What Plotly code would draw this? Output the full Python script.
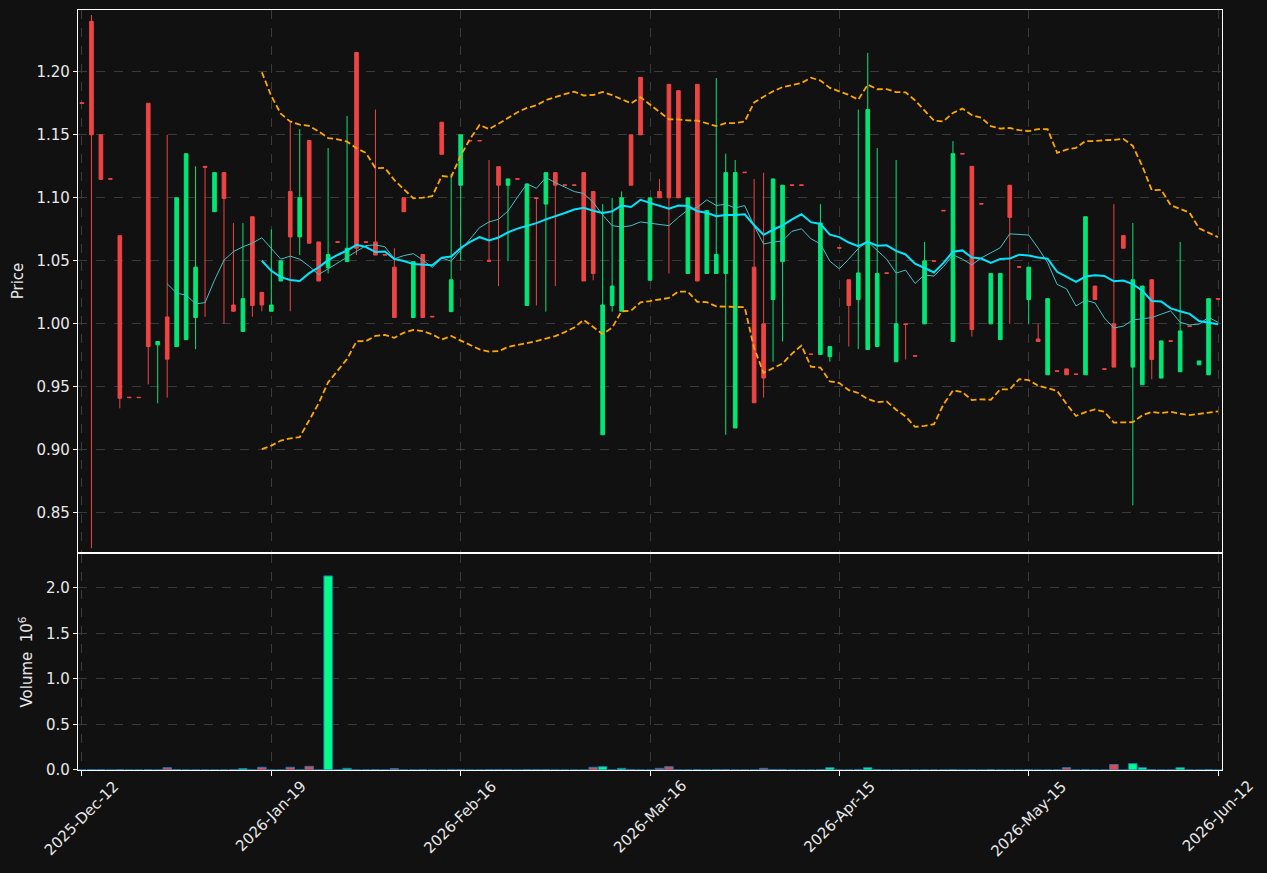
import plotly.graph_objects as go
import pandas as pd

# ---- data (index-based x axis, like mplfinance) ----
opens = [1.1755,1.240,1.150,1.1152,1.070,0.9418,0.9418,1.175,0.9834,1.0055,
         0.982,0.9875,1.005,1.125,1.089,1.120,1.015,0.994,1.085,1.025,
         1.010,1.034,1.105,1.069,1.1455,1.065,1.0445,1.0652,1.0494,1.2153,
         1.0652,1.065,1.0550,1.045,1.100,1.005,1.055,1.0060,1.160,1.0097,
         1.110,1.1455,1.1455,1.0505,1.1247,1.110,1.1152,1.0146,1.100,1.095,
         1.120,1.1103,1.1103,1.120,1.105,0.912,1.0146,1.010,1.150,1.1956,
         1.0346,1.105,1.190,1.185,1.040,1.190,1.040,1.040,1.040,0.9174,
         1.1204,1.045,1.000,1.0193,1.0494,1.1103,1.1103,0.9762,0.9758,0.974,
         1.0605,1.035,1.0193,0.9796,0.982,1.0405,0.970,1.000,0.9748,1.000,
         1.0501,1.0901,0.986,1.1352,1.125,1.0955,1.000,0.9875,1.110,1.0454,
         1.0193,0.988,0.9596,0.9628,0.9643,0.9603,0.9596,1.030,0.9644,1.000,
         1.070,0.9657,0.9517,1.035,0.957,0.9866,0.962,0.9984,0.9675,0.9596,
         1.0200]
highs = [1.1755,1.245,1.150,1.1152,1.070,0.9418,0.9418,1.175,0.986,1.150,
         1.100,1.135,1.125,1.125,1.120,1.120,1.080,1.080,1.085,1.025,
         1.075,1.050,1.161,1.1545,1.1455,1.065,1.1395,1.0652,1.165,1.2153,
         1.0652,1.170,1.0550,1.060,1.100,1.0494,1.055,1.0060,1.160,1.119,
         1.150,1.1455,1.1455,1.130,1.1247,1.115,1.1152,1.111,1.100,1.120,
         1.120,1.1103,1.1103,1.120,1.105,1.095,1.100,1.105,1.150,1.1956,
         1.100,1.115,1.190,1.185,1.100,1.190,1.090,1.195,1.135,1.130,
         1.1204,1.115,1.120,1.115,1.110,1.1103,1.1103,0.9762,1.095,0.982,
         1.0605,1.035,1.170,1.215,1.1395,1.0405,1.130,1.000,0.9748,1.065,
         1.0501,1.0901,1.145,1.1352,1.125,1.0955,1.040,1.040,1.110,1.0454,
         1.045,1.000,1.020,0.9628,0.9643,0.9603,1.085,1.030,0.9644,1.095,
         1.070,1.080,1.030,1.035,0.9865,0.9866,1.065,0.9984,0.9706,1.020,
         1.0200]
lows = [1.1748,0.822,1.1146,1.1148,0.933,0.9415,0.9415,0.952,0.937,0.9415,
        0.982,0.9875,0.980,1.0056,1.089,1.000,1.0097,0.994,1.0056,1.010,
        1.010,1.034,1.010,1.0546,1.064,1.034,1.040,1.0647,1.0494,1.0546,
        1.0647,1.0546,1.0546,1.005,1.089,1.005,1.005,1.0056,1.1345,1.0097,
        1.050,1.1452,1.1452,1.0497,1.030,1.0497,1.1148,1.0146,1.0146,1.0097,
        1.030,1.1099,1.1099,1.034,1.0346,0.912,1.0097,1.010,1.110,1.150,
        1.0346,1.100,1.040,1.100,1.040,1.034,1.040,1.040,0.912,0.9174,
        1.120,0.9374,0.9415,0.970,0.986,1.1099,1.1099,0.9758,0.9758,0.970,
        1.0601,0.982,0.980,0.9796,0.982,1.0401,0.970,0.9717,0.9744,1.000,
        1.0497,1.0897,0.986,1.1348,0.990,1.0951,1.000,0.9875,1.000,1.045,
        1.000,0.986,0.9596,0.9624,0.9596,0.9599,0.9596,1.0193,0.964,0.9657,
        1.060,0.856,0.9517,0.956,0.957,0.9862,0.962,0.998,0.9675,0.9596,
        1.0196]
closes = [1.1748,1.150,1.1146,1.1148,0.941,0.9415,0.9415,0.982,0.986,0.972,
          1.100,1.135,1.045,1.1242,1.120,1.0995,1.010,1.020,1.0146,1.015,
          1.015,1.050,1.069,1.100,1.064,1.034,1.055,1.0647,1.060,1.060,
          1.0647,1.0546,1.0546,1.005,1.089,1.0494,1.005,1.0056,1.1345,1.035,
          1.150,1.1452,1.1452,1.0497,1.110,1.115,1.1148,1.111,1.0995,1.120,
          1.110,1.1099,1.1099,1.034,1.040,1.015,1.030,1.100,1.110,1.150,
          1.100,1.100,1.100,1.100,1.100,1.034,1.090,1.055,1.120,1.120,
          1.120,0.9374,0.957,1.115,1.110,1.1099,1.1099,0.9758,1.080,0.982,
          1.0601,1.0146,1.0404,1.170,1.040,1.0401,1.000,0.9995,0.9744,1.050,
          1.0497,1.0897,1.135,1.1348,0.9955,1.0951,1.040,1.040,1.0845,1.045,
          1.045,0.986,1.020,0.9624,0.9596,0.9599,1.085,1.0193,0.964,0.9657,
          1.060,1.035,1.030,0.9717,0.9865,0.9862,0.9944,0.998,0.9706,1.020,
          1.0196]
volumes = [0,3000,3000,0,3000,0,0,3000,0,25000,
           3000,0,0,0,0,0,3000,15000,0,30000,
           0,0,30000,0,40000,0,2130000,0,18000,0,
           0,3000,0,15000,0,0,3000,0,0,3000,
           3000,0,0,3000,3000,3000,0,3000,3000,3000,
           0,0,0,0,30000,36000,0,18000,3000,0,
           0,18000,36000,0,0,3000,0,3000,3000,0,
           0,0,18000,3000,3000,0,0,0,3000,25000,
           0,0,3000,25000,3000,0,0,0,0,0,
           0,0,3000,0,3000,0,3000,0,0,0,
           3000,0,0,0,25000,0,3000,0,0,60000,
           0,70000,25000,3000,0,0,25000,0,0,3000,
           0]
tick_idx = [0, 20, 40, 60, 80, 100, 120]
tick_labels = ["2025-Dec-12", "2026-Jan-19", "2026-Feb-16", "2026-Mar-16",
               "2026-Apr-15", "2026-May-15", "2026-Jun-12"]

# ---- derived indicators ----
x = list(range(len(closes)))
cs = pd.Series(closes)
ma10 = cs.rolling(10).mean()
ma20 = cs.rolling(20).mean()
sd20 = cs.rolling(20).std(ddof=0)
upper = ma20 + 2 * sd20
lower = ma20 - 2 * sd20

UP = "#00e676"
DOWN = "#ef4444"
VOL_UP = "#00ff88"
BG = "#111111"
TXT = "#e8e8e8"
GRID = "#3a3a3a"
FS = 15

vol_colors = [VOL_UP if c > o else DOWN for o, c in zip(opens, closes)]

fig = go.Figure()
fig.add_trace(go.Candlestick(
    x=x, open=opens, high=highs, low=lows, close=closes,
    increasing=dict(line=dict(color=UP, width=1), fillcolor=UP),
    decreasing=dict(line=dict(color=DOWN, width=1), fillcolor=DOWN),
    whiskerwidth=0, xaxis="x", yaxis="y", showlegend=False))
fig.add_trace(go.Scatter(x=x, y=upper, mode="lines", xaxis="x", yaxis="y",
                         line=dict(color="#ffa500", width=1.8, dash="6px,3px"), showlegend=False))
fig.add_trace(go.Scatter(x=x, y=lower, mode="lines", xaxis="x", yaxis="y",
                         line=dict(color="#ffa500", width=1.8, dash="6px,3px"), showlegend=False))
fig.add_trace(go.Scatter(x=x, y=ma10, mode="lines", xaxis="x", yaxis="y",
                         line=dict(color="#44bfc2", width=1), showlegend=False))
fig.add_trace(go.Scatter(x=x, y=ma20, mode="lines", xaxis="x", yaxis="y",
                         line=dict(color="#00e5ff", width=2), showlegend=False))
fig.add_trace(go.Bar(x=x, y=[v / 1e6 for v in volumes], xaxis="x2", yaxis="y2",
                     width=0.9, marker=dict(color=vol_colors, line=dict(color="#1f77b4", width=1)),
                     showlegend=False))

axis_common = dict(showline=True, linecolor="white", linewidth=1.2, mirror=True,
                   showgrid=True, gridcolor=GRID, griddash="dash", gridwidth=1,
                   zeroline=False, tickfont=dict(family="DejaVu Sans", size=FS, color=TXT))
xr = [-0.42, 120.42]
fig.update_layout(
    width=1267, height=873,
    margin=dict(l=78, r=45, t=10, b=103),
    paper_bgcolor=BG, plot_bgcolor=BG,
    font=dict(family="DejaVu Sans", color=TXT, size=FS),
    boxgap=0.45,
    xaxis=dict(**axis_common, domain=[0, 1], anchor="y", range=xr,
               tickmode="array", tickvals=tick_idx, showticklabels=False,
               rangeslider=dict(visible=False), ticks=""),
    yaxis=dict(**axis_common, domain=[0.2868, 1], anchor="x", range=[0.819, 1.249],
               tickmode="array", tickvals=[0.85, 0.90, 0.95, 1.00, 1.05, 1.10, 1.15, 1.20],
               tickformat=".2f", ticks="outside", ticklen=4, tickcolor="white",
               title=dict(text="Price", font=dict(size=FS, color=TXT), standoff=9)),
    xaxis2=dict(**axis_common, domain=[0, 1], anchor="y2", range=xr,
                tickmode="array", tickvals=tick_idx, showticklabels=False,
                ticks="outside", ticklen=5, tickcolor="white"),
    yaxis2=dict(**axis_common, domain=[0, 0.2842], anchor="x2", range=[0, 2.37],
                tickmode="array", tickvals=[0, 0.5, 1.0, 1.5, 2.0], tickformat=".1f",
                ticks="outside", ticklen=4, tickcolor="white",
                title=dict(text="Volume  10<sup>6</sup>", font=dict(size=FS, color=TXT), standoff=9)),
)

# rotated date labels centred under each tick (matplotlib style)
for ti, tl in zip(tick_idx, tick_labels):
    fig.add_annotation(x=ti, xref="x2", y=-0.006, yref="paper", text=tl,
                       textangle=-45, xanchor="center", yanchor="top", showarrow=False,
                       font=dict(family="DejaVu Sans", size=FS, color=TXT))

fig.write_html("out.html")
